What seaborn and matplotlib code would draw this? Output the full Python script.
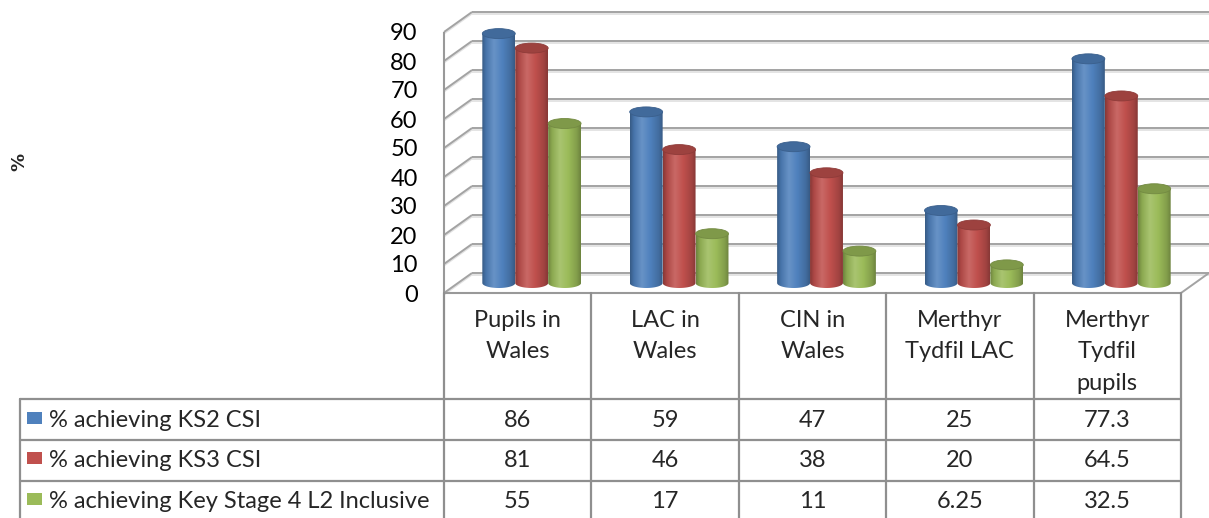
import numpy as np
import pandas as pd
import matplotlib
matplotlib.use("Agg")
import matplotlib.pyplot as plt
import seaborn as sns
from matplotlib.patches import Ellipse, Rectangle
from matplotlib.path import Path
from matplotlib.colors import LinearSegmentedColormap, to_rgb
from matplotlib.lines import Line2D
from matplotlib.transforms import ScaledTranslation

# ---------------- data ----------------
categories = ["Pupils in\nWales", "LAC in\nWales", "CIN in\nWales",
              "Merthyr\nTydfil LAC", "Merthyr\nTydfil\npupils"]
series_names = ["% achieving KS2 CSI", "% achieving KS3 CSI",
                "% achieving Key Stage 4 L2 Inclusive"]
ks2_csi = [86, 59, 47, 25, 77.3]
ks3_csi = [81, 46, 38, 20, 64.5]
ks4_l2 = [55, 17, 11, 6.25, 32.5]
y_ticks = [0, 10, 20, 30, 40, 50, 60, 70, 80, 90]
y_label = "%"
series_colors = ["#4F81BD", "#C0504D", "#9BBB59"]

series_values = [ks2_csi, ks3_csi, ks4_l2]
df = pd.DataFrame({
    "category": [c for _ in series_names for c in categories],
    "series": [s for s in series_names for _ in categories],
    "value": [v for vals in series_values for v in vals],
})

# ---------------- layout (pixels) ----------------
W, H, DPI = 1209, 518, 100
PLANE_L, PLANE_R = 458, 1195      # bar plane x extent
ZERO_Y, PX_PER_UNIT = 283, 2.9    # bar plane baseline and scale
DEPTH_X, DEPTH_Y = 14, 10         # half-depth offset of 3D box
FONT = ["Lato", "DejaVu Sans"]
FS = 17
GRID_C = "#a3a3a3"
TABLE_C = "#8f8f8f"

sns.set_style("white")
plt.rcParams["font.family"] = FONT

fig = plt.figure(figsize=(W / DPI, H / DPI), dpi=DPI)
ymax = y_ticks[-1]
ax = fig.add_axes([PLANE_L / W, (H - ZERO_Y) / H, (PLANE_R - PLANE_L) / W,
                   ymax * PX_PER_UNIT / H])
ax.patch.set_alpha(0)

sns.barplot(data=df, x="category", y="value", hue="series",
            order=categories, hue_order=series_names, palette=series_colors,
            width=0.67, gap=0, saturation=1, legend=False, ax=ax, errorbar=None)

n = len(categories)
px_x = (PLANE_R - PLANE_L) / n
dxd = DEPTH_X / px_x
dyd = DEPTH_Y / PX_PER_UNIT
x_lo, x_hi = -0.5, n - 0.5

# ---------------- 3D box (walls, floor, grid) ----------------
def gline(xs, ys, color=GRID_C, lw=1.4, z=0.5):
    ax.add_line(Line2D(xs, ys, color=color, lw=lw, clip_on=False, zorder=z,
                       solid_capstyle="butt"))

shadow = 1.6 / PX_PER_UNIT
for v in y_ticks:
    # back wall
    gline([x_lo + dxd, x_hi + dxd], [v + dyd - shadow] * 2, color="#e2e2e2", lw=1.3, z=0.4)
    gline([x_lo + dxd, x_hi + dxd], [v + dyd] * 2)
    # side wall
    gline([x_lo - dxd, x_lo + dxd], [v - dyd - shadow, v + dyd - shadow], color="#e2e2e2", lw=1.3, z=0.4)
    gline([x_lo - dxd, x_lo + dxd], [v - dyd, v + dyd])
# front vertical edge of side wall
gline([x_lo - dxd] * 2, [-dyd, ymax - dyd], color="#999999", lw=1.5)
# floor
gline([x_lo - dxd, x_hi - dxd], [-dyd, -dyd], color="#999999", lw=1.5)
gline([x_hi - dxd, x_hi + dxd], [-dyd, dyd])

# ---------------- cylinders ----------------
def shade(c, f):
    return tuple(np.clip(np.array(to_rgb(c)) * f, 0, 1))

def tint(c, f):
    c = np.array(to_rgb(c))
    return tuple(c + (1 - c) * f)

e = 10 / PX_PER_UNIT  # ellipse height in data units
grad = np.linspace(0, 1, 128).reshape(1, -1)
theta = np.linspace(np.pi, 2 * np.pi, 60)

for p in list(ax.patches):
    x0, w, h = p.get_x(), p.get_width(), p.get_height()
    if h <= 0 or w <= 0:
        continue
    c = p.get_facecolor()[:3]
    p.set_visible(False)
    xc = x0 + w / 2
    cmap = LinearSegmentedColormap.from_list("cyl", [
        (0.0, shade(c, 0.70)), (0.12, shade(c, 0.90)), (0.36, tint(c, 0.14)),
        (0.62, shade(c, 1.0)), (0.88, shade(c, 0.84)), (1.0, shade(c, 0.70))])
    bx = xc + (w / 2) * np.cos(theta)
    by = (e / 2) * np.sin(theta)
    verts = list(zip(bx, by)) + [(x0 + w, h), (x0, h), (bx[0], by[0])]
    path = Path(verts, closed=True)
    im = ax.imshow(grad, extent=(x0, x0 + w, -e / 2, h), aspect="auto",
                   cmap=cmap, origin="lower", zorder=2, interpolation="bilinear")
    im.set_clip_path(path, ax.transData)
    im.set_clip_box(fig.bbox)
    cap = Ellipse((xc, h), w, e, facecolor=shade(c, 0.82),
                  edgecolor=shade(c, 0.74), lw=0.6, zorder=3, clip_on=False)
    ax.add_patch(cap)

ax.set_xlim(x_lo, x_hi)
ax.set_ylim(0, ymax)
ax.set_xticks([])
ax.set_xlabel("")
ax.set_ylabel("")
for s in ax.spines.values():
    s.set_visible(False)

# y tick labels on the front edge of the side wall
ax.set_yticks(y_ticks)
ax.set_yticklabels([f"{t:g}" for t in y_ticks], fontsize=FS, color="#000000")
ax.tick_params(axis="y", length=0, pad=29)
off = ScaledTranslation(0, -DEPTH_Y / DPI, fig.dpi_scale_trans)
for lab in ax.get_yticklabels():
    lab.set_transform(lab.get_transform() + off)

fig.text(19 / W, 1 - 162 / H, y_label, rotation=90, ha="center", va="center",
         fontsize=13, fontweight="bold", family=["DejaVu Sans"])

# ---------------- data table ----------------
def fx(x):
    return x / W

def fy(y):
    return 1 - y / H

def tline(x0, y0, x1, y1):
    fig.add_artist(Line2D([fx(x0), fx(x1)], [fy(y0), fy(y1)],
                          transform=fig.transFigure, color=TABLE_C, lw=1.6))

TABLE_TOP = ZERO_Y + DEPTH_Y
col_left = PLANE_L - DEPTH_X
col_edges = [col_left + px_x * i for i in range(n + 1)]
row_edges = [399, 440, 481]
legend_left = 20

for xe in col_edges:
    tline(xe, TABLE_TOP, xe, H + 2)
tline(legend_left, row_edges[0], legend_left, H + 2)
for ye in row_edges:
    tline(legend_left, ye, col_edges[-1], ye)

# header
for i, cat in enumerate(categories):
    cx = (col_edges[i] + col_edges[i + 1]) / 2
    for j, line in enumerate(cat.split("\n")):
        fig.text(fx(cx), fy(327 + 31.5 * j), line, ha="center", va="baseline",
                 fontsize=FS)

# rows
row_baselines = [427, 467, 508]
for r, (name, vals, col) in enumerate(zip(series_names, series_values, series_colors)):
    yb = row_baselines[r]
    fig.add_artist(Rectangle((fx(27), fy(yb - 3)), 15 / W, 12 / H,
                             transform=fig.transFigure, facecolor=col,
                             edgecolor="none"))
    fig.text(fx(49), fy(yb), name, ha="left", va="baseline", fontsize=FS)
    for i, v in enumerate(vals):
        cx = (col_edges[i] + col_edges[i + 1]) / 2
        fig.text(fx(cx), fy(yb), f"{v:g}", ha="center", va="baseline", fontsize=FS)

fig.savefig("out.png", dpi=DPI)
